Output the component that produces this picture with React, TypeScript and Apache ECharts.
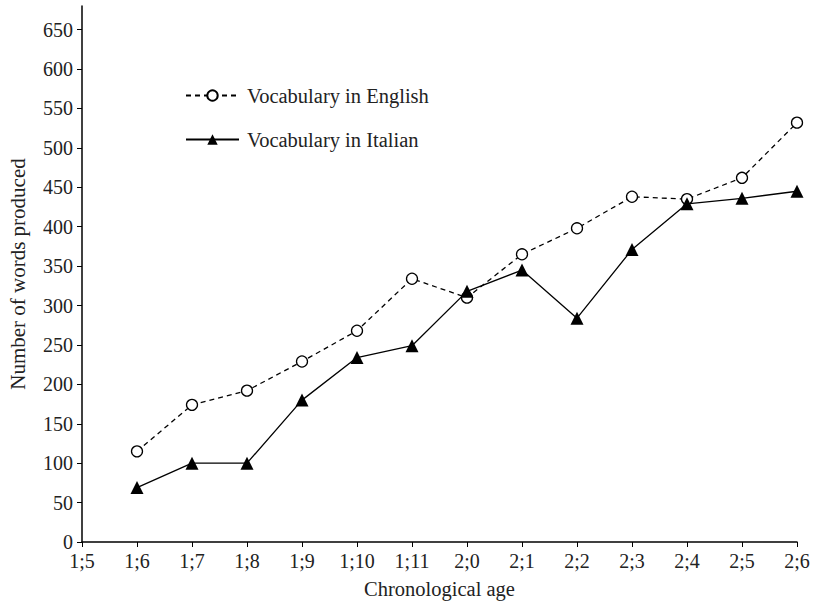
import React, { useEffect, useRef } from "react";
import * as echarts from "echarts";

const ages = ["1;5", "1;6", "1;7", "1;8", "1;9", "1;10", "1;11", "2;0", "2;1", "2;2", "2;3", "2;4", "2;5", "2;6"];
const english = [null, 115, 174, 192, 229, 268, 334, 310, 365, 398, 438, 435, 462, 532];
const italian = [null, 69, 100, 100, 180, 234, 249, 318, 345, 284, 371, 429, 436, 445];
const yTicks = [0, 50, 100, 150, 200, 250, 300, 350, 400, 450, 500, 550, 600, 650];

const FONT = "Liberation Serif";

export default function App() {
  const ref = useRef<HTMLDivElement>(null);
  useEffect(() => {
    if (!ref.current) return;
    const chart = echarts.init(ref.current, null, { renderer: "svg" });
    chart.setOption({
      animation: false,
      backgroundColor: "#fff",
      textStyle: { fontFamily: FONT },
      grid: { left: 82, right: 19, top: 6, bottom: 63, outerBoundsMode: "none", containLabel: false },
      legend: {
        left: 180,
        top: 80,
        orient: "vertical",
        itemWidth: 53,
        itemHeight: 13,
        itemGap: 23,
        textStyle: { fontFamily: FONT, fontSize: 20.5, color: "#222", padding: [0, 0, 0, 3] },
        data: ["Vocabulary in English", "Vocabulary in Italian"],
      },
      xAxis: {
        type: "category",
        data: ages,
        boundaryGap: false,
        name: "Chronological age",
        nameLocation: "middle",
        nameGap: 36,
        nameTextStyle: { fontFamily: FONT, fontSize: 20.5, color: "#222" },
        axisLine: { lineStyle: { color: "#000", width: 1.5 } },
        axisTick: { show: true, length: 5, inside: false, alignWithLabel: true, lineStyle: { color: "#000" } },
        axisLabel: { fontFamily: FONT, fontSize: 20, color: "#222", margin: 9, interval: 0 },
        splitLine: { show: false },
      },
      yAxis: {
        type: "value",
        min: 0,
        max: 680,
        interval: 50,
        name: "Number of words produced",
        nameLocation: "middle",
        nameGap: 54,
        nameTextStyle: { fontFamily: FONT, fontSize: 21, color: "#222" },
        axisLine: { show: true, lineStyle: { color: "#000", width: 1.5 } },
        axisTick: { show: true, length: 5, lineStyle: { color: "#000" }, customValues: yTicks },
        axisLabel: { fontFamily: FONT, fontSize: 20, color: "#222", margin: 9, customValues: yTicks },
        splitLine: { show: false },
      },
      series: [
        {
          name: "Vocabulary in English",
          type: "line",
          data: english,
          symbol: "circle",
          symbolSize: 11,
          showAllSymbol: true,
          itemStyle: { color: "#fff", borderColor: "#000", borderWidth: 1.3 },
          lineStyle: { color: "#000", width: 1.3, type: [5, 4] },
          z: 2,
        },
        {
          name: "Vocabulary in Italian",
          type: "line",
          data: italian,
          symbol: "triangle",
          symbolSize: 13,
          showAllSymbol: true,
          itemStyle: { color: "#000", borderColor: "#000", borderWidth: 0 },
          lineStyle: { color: "#000", width: 1.3, type: "solid" },
          z: 3,
        },
      ],
    });
    return () => chart.dispose();
  }, []);
  return <div ref={ref} style={{ width: 816, height: 605, position: "absolute", left: 0, top: 0 }} />;
}
